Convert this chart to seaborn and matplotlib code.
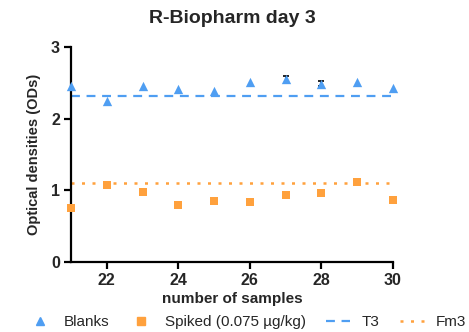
import matplotlib
matplotlib.use("Agg")
import matplotlib.pyplot as plt
import seaborn as sns
import pandas as pd
import numpy as np
from matplotlib.lines import Line2D

samples = [21, 22, 23, 24, 25, 26, 27, 28, 29, 30]
blanks = [2.45, 2.24, 2.45, 2.41, 2.39, 2.51, 2.55, 2.49, 2.51, 2.43]
blanks_err = [0, 0, 0, 0, 0, 0, 0.05, 0.04, 0, 0]
spiked = [0.76, 1.07, 0.98, 0.79, 0.85, 0.84, 0.93, 0.96, 1.11, 0.86]
spiked_err = [0, 0, 0, 0, 0, 0.03, 0, 0, 0, 0]
t3 = 2.31
fm3 = 1.105

blue = "#4f9ef2"
orange = "#ffa13d"

sns.set_theme(style="ticks")
plt.rcParams['font.family'] = ['Liberation Sans', 'DejaVu Sans']

fig = plt.figure(figsize=(4.69, 3.32), dpi=100)
ax = fig.add_axes([71/469, 70/332, 322/469, 215/332])

df = pd.DataFrame({"samples": samples, "blanks": blanks, "spiked": spiked,
                   "blanks_err": blanks_err, "spiked_err": spiked_err})

be = df[df["blanks_err"] > 0]
se = df[df["spiked_err"] > 0]
ax.errorbar(be["samples"], be["blanks"], yerr=be["blanks_err"], fmt="none",
            ecolor="black", elinewidth=1.2, capsize=2.5, capthick=1.2, zorder=2)
ax.errorbar(se["samples"], se["spiked"], yerr=se["spiked_err"], fmt="none",
            ecolor="#555555", elinewidth=1.2, capsize=2.5, capthick=1.2, zorder=2)

sns.scatterplot(data=df, x="samples", y="blanks", marker="^", color=blue, s=45,
                linewidth=0, ax=ax, zorder=3, clip_on=False)
sns.scatterplot(data=df, x="samples", y="spiked", marker="s", color=orange, s=40,
                linewidth=0, ax=ax, zorder=3, clip_on=False)
ax.axhline(t3, color=blue, linestyle=(0, (4, 3)), linewidth=1.6, zorder=1)
ax.axhline(fm3, color=orange, linestyle=(0, (1.2, 3)), linewidth=1.8, zorder=1)

ax.set_xlim(21, 30)
ax.set_ylim(0, 3)
ax.set_xticks([22, 24, 26, 28, 30])
ax.set_yticks([0, 1, 2, 3])
sns.despine(ax=ax)
for sp in ["left", "bottom"]:
    ax.spines[sp].set_linewidth(1.6)
    ax.spines[sp].set_color("black")
ax.tick_params(axis="both", width=1.6, length=5, color="black", labelsize=11.5, pad=3)
for lab in ax.get_xticklabels() + ax.get_yticklabels():
    lab.set_fontweight("bold")

ax.set_xlabel("number of samples", fontsize=11, fontweight="bold", labelpad=3)
ax.set_ylabel("Optical densities (ODs)", fontsize=10.5, fontweight="bold", labelpad=7)
ax.set_title("R-Biopharm day 3", fontsize=14, fontweight="bold", pad=17)

handles = [
    Line2D([], [], marker="^", color=blue, linestyle="none", markersize=6),
    Line2D([], [], marker="s", color=orange, linestyle="none", markersize=6),
    Line2D([], [], color=blue, linestyle=(0, (4, 3)), linewidth=1.6),
    Line2D([], [], color=orange, linestyle=(0, (1.2, 3)), linewidth=1.8),
]
labels = ["Blanks", "Spiked (0.075 µg/kg)", "T3", "Fm3"]
fig.legend(handles, labels, loc="center", bbox_to_anchor=(247/469, 1 - 322/332),
           ncol=4, frameon=False, fontsize=11, handlelength=1.57,
           columnspacing=1.3, handletextpad=0.78, borderpad=0, borderaxespad=0)

fig.savefig("out.png", dpi=100)
